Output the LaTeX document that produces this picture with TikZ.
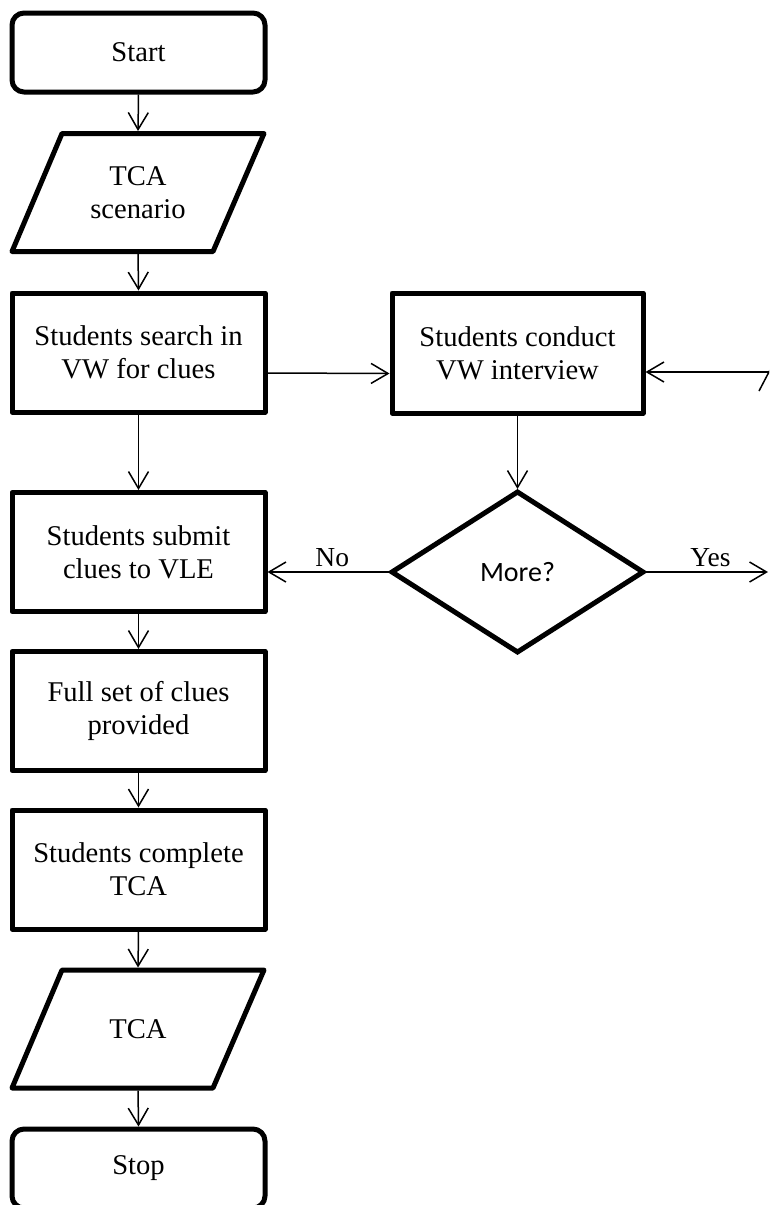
\documentclass[tikz,border=0pt]{standalone}
\usepackage{fontspec}
\setmainfont{Liberation Serif}
\newfontfamily\decisionfont{Carlito}
\usetikzlibrary{arrows.meta}

\begin{document}
\begin{tikzpicture}[x=1pt,y=-1pt,
  txt/.style={font=\fontsize{28.6}{33}\selectfont, align=center},
  box/.style={txt, draw, line width=5pt, line join=round, inner sep=0pt,
    minimum width=253pt, minimum height=119pt},
  term/.style={box, rounded corners=12pt, minimum height=79pt},
  slantbox/.style={txt, inner sep=0pt, outer sep=0pt,
    minimum width=252pt, minimum height=118pt},
  outline/.style={line width=5pt, line join=round},
  arr/.style={line width=1.5pt, -{Straight Barb[length=17pt,width=20pt]}},
  lbl/.style={font=\fontsize{27.5}{30}\selectfont},
]
\clip (0,0) rectangle (769,1205);

% main column
\node[term] (start) at (138.5,52.5) {Start};
\node[slantbox] (scen) at (138,192.5) {TCA\\scenario};
\node[box] (search) at (138.5,352.5) {Students search in\\VW for clues};
\node[box] (submit) at (138.5,552) {Students submit\\clues to VLE};
\node[box] (full) at (138.5,711) {Full set of clues\\provided};
\node[box] (complete) at (138.5,869.5) {Students complete\\TCA};
\node[slantbox] (tca) at (138,1029) {TCA};
\node[term] (stop) at (138.5,1168.5) {Stop};

% side branch
\node[box, minimum width=251pt, minimum height=120pt] (interview) at (517.5,353) {Students conduct\\VW interview};
\node[inner sep=0pt, outer sep=0pt, minimum width=251pt, minimum height=160pt,
  font=\decisionfont\fontsize{28}{32}\selectfont] (more) at (517.5,572) {More?};

% data (parallelogram) outlines
\foreach \n in {scen,tca}{
  \draw[outline] (\n.south west) -- ([xshift=-51pt]\n.south east)
    -- (\n.north east) -- ([xshift=50pt]\n.north west) -- cycle;
}
% decision outline
\draw[line width=5pt, line join=miter] (more.north) -- (more.east)
  -- (more.south) -- (more.west) -- cycle;

% loose ends at the right margin
\coordinate (yesEnd) at (768,572);
\coordinate (backStart) at (780,372);
\coordinate (edgeA) at (759,391);
\coordinate (edgeB) at (770,370);

% connectors
\draw[arr, shorten >=2.5pt] (start.south) -- (scen.north);
\draw[arr, shorten <=2.5pt] (scen.south) -- (search.north);
\draw[arr] ([yshift=-20.5pt]search.east) -- ([yshift=-20.5pt]interview.west);
\draw[arr] (search.south) -- (submit.north);
\draw[arr, shorten >=3pt] (interview.south) -- (more.north);
\draw[arr] (more.west) -- node[lbl, above=1pt, pos=0.48] {No} (submit.east |- more.west);
\draw[arr] (more.east) -- node[lbl, above=1pt, pos=0.54] {Yes} (yesEnd);
\draw[arr] (backStart) -- ([yshift=-19pt]interview.east);
\draw[line width=1.5pt] (edgeA) -- (edgeB);
\draw[arr] (submit.south) -- (full.north);
\draw[arr] (full.south) -- (complete.north);
\draw[arr, shorten >=2.5pt] (complete.south) -- (tca.north);
\draw[arr, shorten <=2.5pt] (tca.south) -- (stop.north);
\end{tikzpicture}
\end{document}
